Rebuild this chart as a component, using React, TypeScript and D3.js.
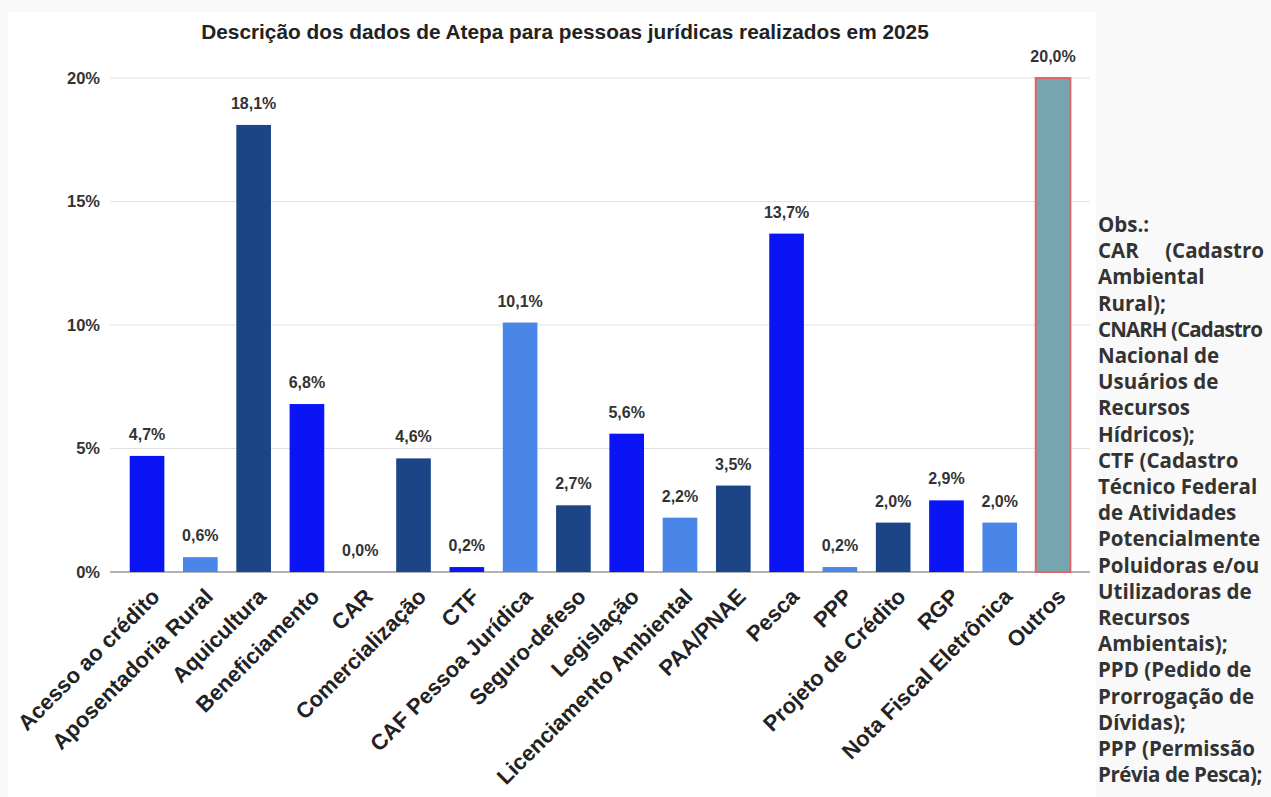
import React, { useEffect, useRef } from 'react';
import * as d3 from 'd3';

// Chart data
const categories = [
  'Acesso ao crédito', 'Aposentadoria Rural', 'Aquicultura', 'Beneficiamento', 'CAR',
  'Comercialização', 'CTF', 'CAF Pessoa Jurídica', 'Seguro-defeso', 'Legislação',
  'Licenciamento Ambiental', 'PAA/PNAE', 'Pesca', 'PPP', 'Projeto de Crédito', 'RGP',
  'Nota Fiscal Eletrônica', 'Outros'
];
const values = [4.7, 0.6, 18.1, 6.8, 0.0, 4.6, 0.2, 10.1, 2.7, 5.6, 2.2, 3.5, 13.7, 0.2, 2.0, 2.9, 2.0, 20.0];
const yTicks = [0, 5, 10, 15, 20];
const palette = ['#0a14f5', '#4a86e8', '#1c4587'];
const highlight = 'Outros';

const notes = [
  'Obs.:', 'CAR (Cadastro', 'Ambiental', 'Rural);', 'CNARH (Cadastro', 'Nacional de',
  'Usuários de', 'Recursos', 'Hídricos);', 'CTF (Cadastro', 'Técnico Federal',
  'de Atividades', 'Potencialmente', 'Poluidoras e/ou', 'Utilizadoras de', 'Recursos',
  'Ambientais);', 'PPD (Pedido de', 'Prorrogação de', 'Dívidas);', 'PPP (Permissão',
  'Prévia de Pesca);'
];

const W = 1271;
const H = 797;
const NOTE_X = 1098;
const NOTE_W = 164;

export default function App() {
  const svgRef = useRef<SVGSVGElement>(null);

  // tighten letter spacing on note lines that would run past the edge
  useEffect(() => {
    const fit = () => {
      if (!svgRef.current) return;
      d3.select(svgRef.current).selectAll<SVGTextElement, unknown>('text.note').each(function () {
        this.style.letterSpacing = '0px';
        const len = this.getComputedTextLength();
        if (len > NOTE_W) {
          const n = (this.textContent || '').length;
          this.style.letterSpacing = `${(NOTE_W - len) / n}px`;
        }
      });
    };
    fit();
    if (document.fonts) document.fonts.ready.then(fit);
  }, []);

  const x = d3.scaleBand<string>()
    .domain(categories)
    .range([120.4, 1079.7])
    .paddingInner(0.35)
    .paddingOuter(0.175);
  const y = d3.scaleLinear().domain([0, 20]).range([572, 78]);

  const fmt = (v: number) => v.toFixed(1).replace('.', ',') + '%';
  const font = '"Liberation Sans", Arial, sans-serif';
  const noteFont = '"Open Sans", sans-serif';

  return (
    <div style={{ position: 'absolute', left: 0, top: 0, width: W, height: H, background: '#f9f9f9' }}>
      <svg ref={svgRef} width={W} height={H} style={{ display: 'block' }}>
        <rect x={8} y={12} width={1088} height={H - 12} fill="#fff" />

        <text x={565} y={39} textAnchor="middle" fontFamily={font} fontWeight="bold"
          fontSize={20.8} fill="#222">
          Descrição dos dados de Atepa para pessoas jurídicas realizados em 2025
        </text>

        {/* grid + y ticks */}
        {yTicks.map(t => (
          <g key={t}>
            <line x1={110} x2={1090} y1={y(t)} y2={y(t)}
              stroke={t === 0 ? '#999' : '#e2e2e2'} strokeWidth={t === 0 ? 1.5 : 1} />
            <text x={100} y={y(t)} dy="0.35em" textAnchor="end" fontFamily={font}
              fontWeight="bold" fontSize={16.5} fill="#333">{t}%</text>
          </g>
        ))}

        {/* bars */}
        {categories.map((c, i) => {
          const v = values[i];
          const bx = x(c)!;
          const cx = bx + x.bandwidth() / 2;
          const isHi = c === highlight;
          return (
            <g key={c}>
              {v > 0 && (
                <rect x={bx} y={y(v)} width={x.bandwidth()} height={y(0) - y(v)}
                  fill={isHi ? '#76a5af' : palette[i % 3]}
                  stroke={isHi ? '#e06666' : 'none'} strokeWidth={isHi ? 2 : 0} />
              )}
              <text x={cx} y={y(v) - 16} textAnchor="middle"
                fontFamily={font} fontWeight="bold" fontSize={16} fill="#333">{fmt(v)}</text>
              <text transform={`translate(${cx + 3},${587}) rotate(-45)`}
                textAnchor="end" dy="0.7em" fontFamily={font} fontWeight="bold" fontSize={22}
                fill="#222">{c}</text>
            </g>
          );
        })}

        {/* side note */}
        {notes.map((line, i) => {
          const ly = 232 + i * 26.2;
          if (line === 'CAR (Cadastro') {
            return (
              <g key={i}>
                <text x={NOTE_X} y={ly} fontFamily={noteFont} fontWeight="bold"
                  fontSize={20.5} fill="#333">CAR</text>
                <text x={NOTE_X + NOTE_W + 2} y={ly} textAnchor="end" fontFamily={noteFont}
                  fontWeight="bold" fontSize={20.5} fill="#333">(Cadastro</text>
              </g>
            );
          }
          return (
            <text key={i} className="note" x={NOTE_X} y={ly} fontFamily={noteFont}
              fontWeight="bold" fontSize={20.5} fill="#333">{line}</text>
          );
        })}
      </svg>
    </div>
  );
}
